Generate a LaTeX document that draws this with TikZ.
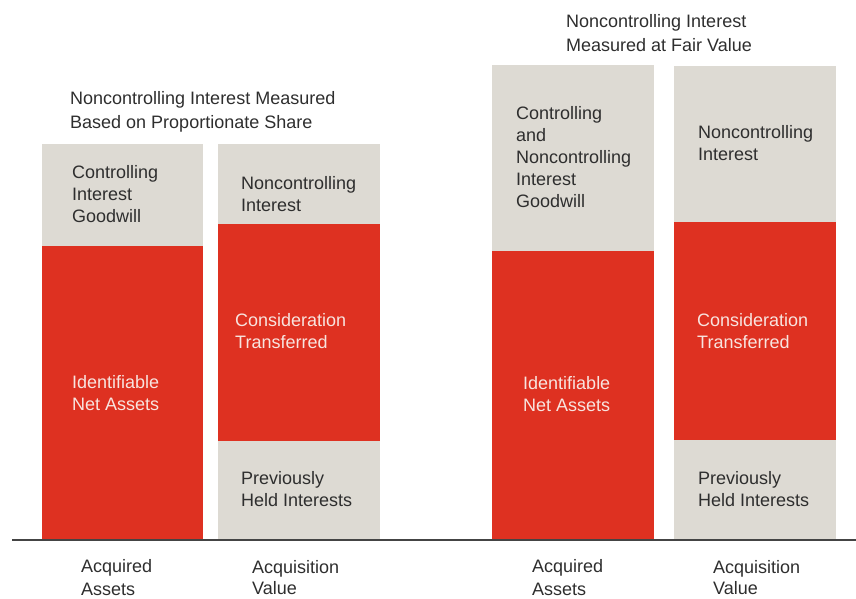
\documentclass[tikz,border=0pt]{standalone}
\usepackage{fontspec}
\setmainfont{Liberation Sans}
\definecolor{gbox}{HTML}{DDDAD3}
\definecolor{rbox}{HTML}{DE3121}
\definecolor{txt}{HTML}{2E2E2E}
\definecolor{wtxt}{HTML}{F8E4DF}
\definecolor{base}{HTML}{444444}
\begin{document}
\begin{tikzpicture}[x=1pt,y=-1pt,
  gray/.style={fill=gbox,draw=none},
  red/.style={fill=rbox,draw=none},
  lbl/.style={anchor=north west,inner sep=0pt,align=left,text=txt,font=\fontsize{18}{22}\selectfont},
  wlbl/.style={lbl,text=wtxt},
  blbl/.style={lbl,font=\fontsize{18}{23}\selectfont},
  vlbl/.style={lbl,font=\fontsize{18}{21.5}\selectfont},
  ttl/.style={lbl,font=\fontsize{18}{24}\selectfont}]
\useasboundingbox (0,0) rectangle (856,599);
% bars
\path[gray] (42,144) rectangle (203,246);
\path[red] (42,246) rectangle (203,540);
\path[gray] (218,144) rectangle (380,224);
\path[red] (218,224) rectangle (380,441);
\path[gray] (218,441) rectangle (380,540);
\path[gray] (492,65) rectangle (654,251);
\path[red] (492,251) rectangle (654,540);
\path[gray] (674,66) rectangle (836,222);
\path[red] (674,222) rectangle (836,440);
\path[gray] (674,440) rectangle (836,540);
% baseline
\coordinate (bl) at (12,540);
\coordinate (br) at (856,540);
\draw[base,line width=2pt] (bl) -- (br);
% titles
\node[ttl] (t1) at (70,91) {Noncontrolling Interest Measured\\Based on Proportionate Share};
\node[ttl] (t2) at (566,14) {Noncontrolling Interest\\Measured at Fair Value};
% left group labels
\node[lbl] (a1) at (72,165) {Controlling\\Interest\\Goodwill};
\node[lbl] (a2) at (241,176) {Noncontrolling\\Interest};
\node[wlbl] (a3) at (235,313) {Consideration\\Transferred};
\node[wlbl] (a4) at (72,375) {Identifiable\\Net Assets};
\node[lbl] (a5) at (241,471) {Previously\\Held Interests};
% right group labels
\node[lbl] (b1) at (516,106) {Controlling\\and\\Noncontrolling\\Interest\\Goodwill};
\node[lbl] (b2) at (698,125) {Noncontrolling\\Interest};
\node[wlbl] (b3) at (697,313) {Consideration\\Transferred};
\node[wlbl] (b4) at (523,376) {Identifiable\\Net Assets};
\node[lbl] (b5) at (698,471) {Previously\\Held Interests};
% bottom labels
\node[blbl] (c1) at (81,559) {Acquired\\Assets};
\node[vlbl] (c2) at (252,560) {Acquisition\\Value};
\node[blbl] (c3) at (532,559) {Acquired\\Assets};
\node[vlbl] (c4) at (713,560) {Acquisition\\Value};
\end{tikzpicture}
\end{document}
